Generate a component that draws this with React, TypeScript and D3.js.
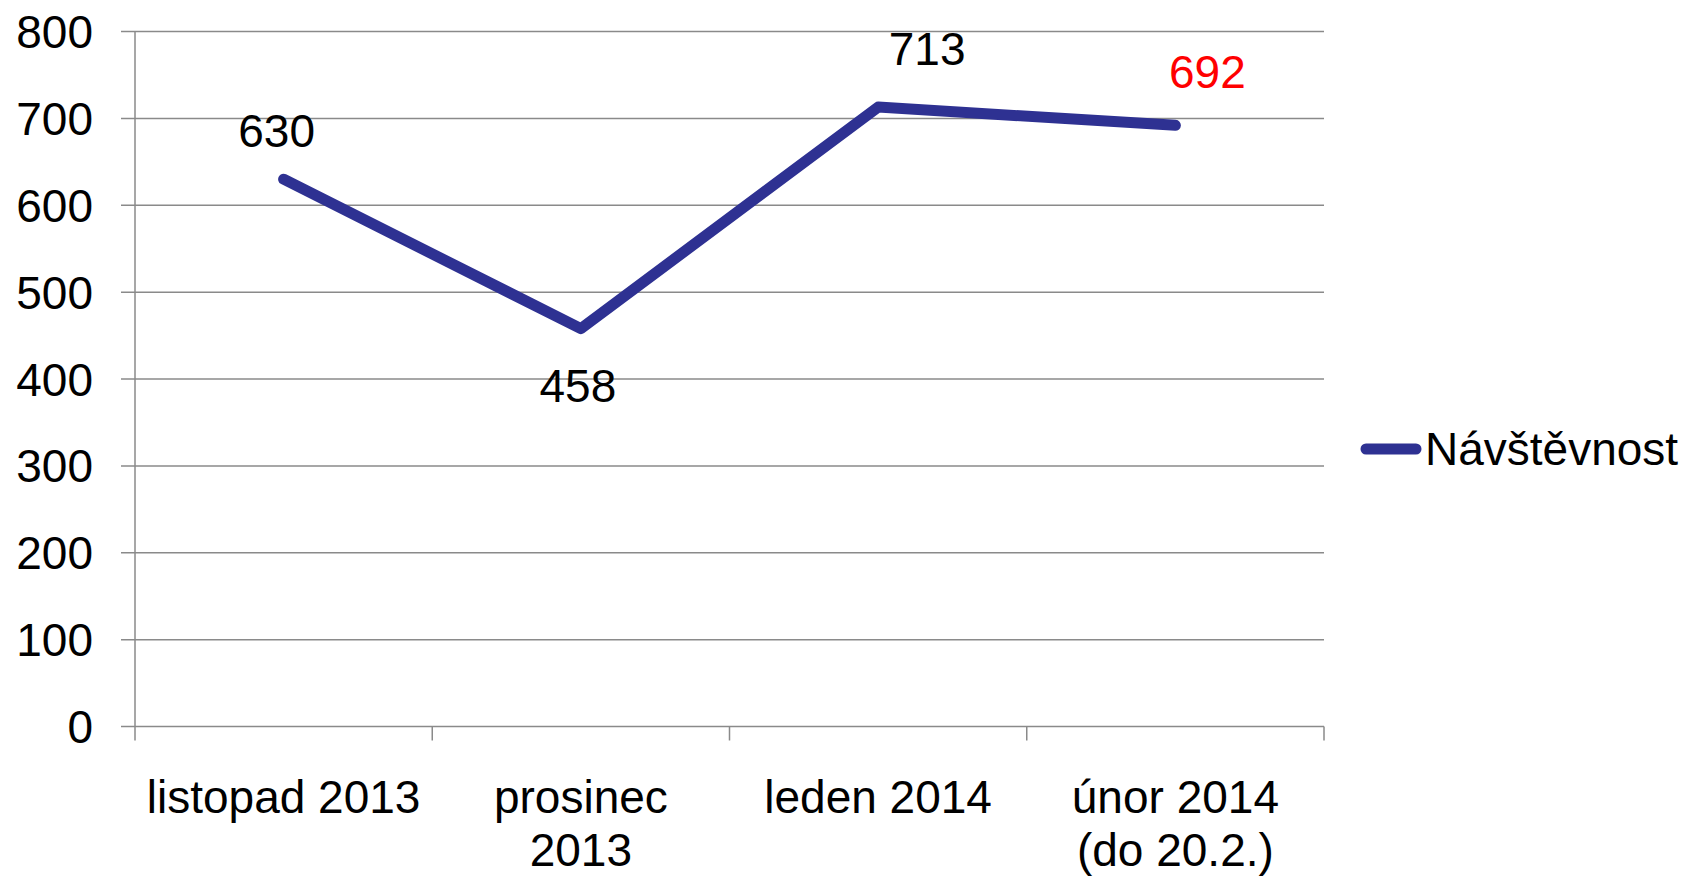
import React from "react";
import * as d3 from "d3";

const width = 1693;
const height = 877;

// data
const categories = ["listopad 2013", "prosinec\n2013", "leden 2014", "únor 2014\n(do 20.2.)"];
const values = [630, 458, 713, 692];
const seriesName = "Návštěvnost";
const yTicks = [0, 100, 200, 300, 400, 500, 600, 700, 800];

// label nudges (hand-placed in the original)
const labelDx = [-7, -3, 49, 32];
const labelDy = [-32, 73, -42, -37];
const labelColors = ["#000", "#000", "#000", "#ff0000"];

const margin = { left: 135, right: 1324, top: 31.5, bottom: 726.5 };
const lineColor = "#2e3192";
const gridColor = "#8a8a8a";
const font = "'Liberation Sans', Arial, sans-serif";
const fontSize = 46;

export default function App() {
  const x = d3.scaleBand<number>()
    .domain(d3.range(categories.length))
    .range([margin.left, margin.right]);

  const y = d3.scaleLinear().domain([0, 800]).range([margin.bottom, margin.top]);

  const line = d3.line<number>()
    .x((_, i) => x(i)! + x.bandwidth() / 2)
    .y(d => y(d));

  const bandEdges = d3.range(categories.length + 1).map(i =>
    i < categories.length ? x(i)! : x(categories.length - 1)! + x.bandwidth()
  );

  return (
    <svg width={width} height={height} style={{ position: "absolute", left: 0, top: 0 }}
      fontFamily={font}>
      <rect width={width} height={height} fill="#fff" />

      {/* horizontal grid + y ticks */}
      {yTicks.map(t => (
        <g key={t}>
          <line x1={margin.left - 14} x2={margin.right} y1={y(t)} y2={y(t)}
            stroke={gridColor} strokeWidth={1.5} />
          <text x={93} y={y(t)} dy="0.36em" textAnchor="end" fontSize={fontSize}>{t}</text>
        </g>
      ))}

      {/* y axis */}
      <line x1={margin.left} x2={margin.left} y1={margin.top} y2={margin.bottom + 14}
        stroke={gridColor} strokeWidth={1.5} />

      {/* x ticks */}
      {bandEdges.slice(1).map((bx, i) => (
        <line key={i} x1={bx} x2={bx} y1={margin.bottom} y2={margin.bottom + 14}
          stroke={gridColor} strokeWidth={1.5} />
      ))}

      {/* x labels */}
      {categories.map((c, i) => (
        <text key={c} x={x(i)! + x.bandwidth() / 2} y={813} textAnchor="middle" fontSize={fontSize}>
          {c.split("\n").map((ln, j) => (
            <tspan key={j} x={x(i)! + x.bandwidth() / 2} dy={j === 0 ? 0 : 53}>{ln}</tspan>
          ))}
        </text>
      ))}

      {/* series line */}
      <path d={line(values)!} fill="none" stroke={lineColor} strokeWidth={11}
        strokeLinecap="round" strokeLinejoin="round" />

      {/* data labels */}
      {values.map((v, i) => (
        <text key={i} x={x(i)! + x.bandwidth() / 2 + labelDx[i]} y={y(v) + labelDy[i]}
          textAnchor="middle" fontSize={fontSize} fill={labelColors[i]}>{v}</text>
      ))}

      {/* legend */}
      <line x1={1366} x2={1416} y1={449} y2={449} stroke={lineColor} strokeWidth={11}
        strokeLinecap="round" />
      <text x={1425} y={465} fontSize={fontSize}>{seriesName}</text>
    </svg>
  );
}
